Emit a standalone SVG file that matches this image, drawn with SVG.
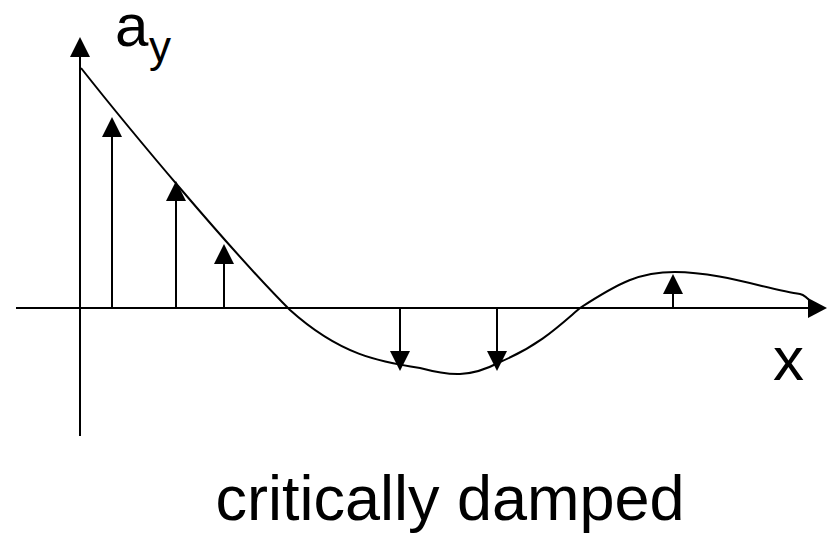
<svg xmlns="http://www.w3.org/2000/svg" width="827" height="534" viewBox="0 0 827 534">
<defs>
<style>
.ln{stroke:#000;stroke-width:2;fill:none}
.t{font-family:"Liberation Sans",Arial,sans-serif;fill:#000}
</style>
</defs>
<rect width="827" height="534" fill="#fff"/>
<g id="axes">
<path class="ln" d="M80,436 V56"/>
<polygon points="80,37 70,57 90,57" fill="#000"/>
<path class="ln" d="M16,308 H808"/>
<polygon points="827,308 808,298 808,318" fill="#000"/>
</g>
<g id="curve">
<path class="ln" d="M81,68 C130,130 230,250 290,310 C340,355 380,362 420,368 C450,376 470,378 500,362 C540,345 560,325 580,308 C620,282 640,272 675,272 C720,272 770,290 800,294 C808,296 810,302 814,306"/>
</g>
<g id="vectors">
<path class="ln" d="M112,308 V136"/><polygon points="112,117 102,137 122,137" fill="#000"/>
<path class="ln" d="M176,308 V200"/><polygon points="176,181 166,201 186,201" fill="#000"/>
<path class="ln" d="M224,308 V263"/><polygon points="224,244 214,264 234,264" fill="#000"/>
<path class="ln" d="M400,308 V352"/><polygon points="400,371 390,351 410,351" fill="#000"/>
<path class="ln" d="M497,308 V352"/><polygon points="497,371 487,351 507,351" fill="#000"/>
<path class="ln" d="M673,308 V294"/><polygon points="673,274 663,294 683,294" fill="#000"/>
</g>
<g id="labels">
<text class="t" x="115" y="46" font-size="60">a</text>
<text class="t" x="149" y="62" font-size="44">y</text>
<text class="t" x="773" y="380" font-size="62">x</text>
<text class="t" x="450" y="520" font-size="63" text-anchor="middle">critically damped</text>
</g>
</svg>
